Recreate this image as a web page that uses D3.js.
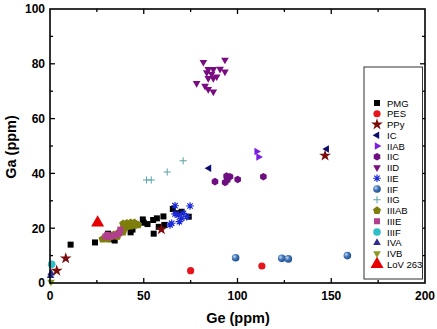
<!DOCTYPE html>
<html><head><meta charset="utf-8">
<script src="https://cdn.jsdelivr.net/npm/d3@7"></script>
<style>body{margin:0;background:#fff}svg{display:block}text{font-family:Arial,"Liberation Sans",sans-serif}</style>
</head><body>
<svg id="c" width="437" height="329"></svg>
<script>
const xTicks = [0, 50, 100, 150, 200];
const yTicks = [0, 20, 40, 60, 80, 100];
const xLabel = "Ge (ppm)";
const yLabel = "Ga (ppm)";

const PMG = [[11,14],[24,14.8],[31,18],[34.5,15.5],[33,16],[43,18.5],[44,19.5],[49.5,23.2],[50,22],[52,21.5],[55,23],[55.3,18],[57,23.6],[58,20.5],[60.5,24.3],[61,21.2],[65.5,27],[67.5,25.5],[70.2,26],[74,24.2]];
const PES = [[75,4.5],[113,6.2]];
const PPy = [[3.6,4.5],[8.4,9],[59.4,19.6],[146.7,46.5]];
const IC = [[84.8,41.9],[147.6,48.9]];
const IIAB = [[110.2,48],[111.2,46]];
const IIC = [[88,37],[93.4,36.7],[94.2,39],[96,38.8],[100.1,37.8],[113.8,38.8],[94.5,37.6]];
const IID = [[81.8,80.6],[93.3,81.4],[84.4,78],[87.1,78],[90.7,78.1],[93.3,77.1],[83.6,76.8],[86.2,76.3],[88.9,75.3],[84.4,74.7],[87.1,74.7],[78.2,72.9],[82.7,71.9],[84.4,70.7],[87.1,69.8]];
const IIE = [[66.7,28.2],[74.7,28.1],[66.7,25.2],[68.4,24.8],[71.1,25.4],[64.9,21.8],[69,22.4],[70.2,23.6],[72.9,24.2],[64,21.2]];
const IIF = [[99,9.2],[123.6,9],[127.1,8.8],[158.6,10]];
const IIG = [[51.5,37.6],[54,37.6],[62.5,40.5],[71,44.6]];
const IIIAB = [[28,16],[29.5,16.4],[31,16],[32,16.8],[33,17.2],[34,17.6],[35,17.2],[36,18],[37,18.6],[38,19.2],[39,19.8],[40,20.2],[41,20.6],[42,21],[43,20.8],[44,21.4],[45,21],[46,21.5],[47,21.2],[39,21.6],[41,21.8],[43,22],[45,22],[36,17],[39,18.6]];
const IIIE = [[29.5,17],[31,16.8],[32.5,17],[34,17.3],[35.5,17.6],[37,18.2],[37.5,19.5],[30.5,17.6]];
const IIIF = [[0.9,6.8]];
const IVA = [[0.3,2.6],[0.6,3.6]];
const IVB = [[0.5,0.4]];
const LoV263 = [[25.4,22]];

const seriesNames = ["PMG","PES","PPy","IC","IIAB","IIC","IID","IIE","IIF","IIG","IIIAB","IIIE","IIIF","IVA","IVB","LoV 263"];
const seriesData = [PMG,PES,PPy,IC,IIAB,IIC,IID,IIE,IIF,IIG,IIIAB,IIIE,IIIF,IVA,IVB,LoV263];

const styles = {
  "PMG":{shape:"square",r:3,fill:"#000"},
  "PES":{shape:"circle",r:3.6,fill:"#e8141c"},
  "PPy":{shape:"star",r:5.2,fill:"#7a0c0c"},
  "IC":{shape:"triLeft",r:4.4,fill:"#0c0c70"},
  "IIAB":{shape:"triRight",r:4.4,fill:"#7a1ee0"},
  "IIC":{shape:"hex",r:3.8,fill:"#6e0e80"},
  "IID":{shape:"triDown",r:4.4,fill:"#780c80"},
  "IIE":{shape:"asterisk",r:3.8,fill:"#1a2ad6"},
  "IIF":{shape:"ball",r:3.8,fill:"#3a6aac"},
  "IIG":{shape:"plus",r:3.6,fill:"#5aa2a6"},
  "IIIAB":{shape:"pent",r:4.2,fill:"#7e7e0c"},
  "IIIE":{shape:"square",r:3,fill:"#b23e8e"},
  "IIIF":{shape:"circle",r:3.8,fill:"#2ebfca"},
  "IVA":{shape:"triUp",r:4.4,fill:"#2e2e8e"},
  "IVB":{shape:"triDown",r:4.4,fill:"#8c9a22"},
  "LoV 263":{shape:"triUp",r:7.5,fill:"#e60000"}
};

function poly(n, r, rot){
  const p=[];
  for(let i=0;i<n;i++){const a=rot+i*2*Math.PI/n;p.push([r*Math.cos(a),r*Math.sin(a)]);}
  return "M"+p.map(d=>d[0].toFixed(2)+","+d[1].toFixed(2)).join("L")+"Z";
}
function shapePath(shape, r){
  switch(shape){
    case "square": return `M${-r},${-r}h${2*r}v${2*r}h${-2*r}Z`;
    case "circle": case "ball": return `M${r},0A${r},${r} 0 1,1 ${-r},0A${r},${r} 0 1,1 ${r},0Z`;
    case "star": return d3.symbol().type(d3.symbolStar).size(r*r*1.6)();
    case "triUp": return poly(3,r,-Math.PI/2);
    case "triDown": return poly(3,r,Math.PI/2);
    case "triLeft": return poly(3,r,Math.PI);
    case "triRight": return poly(3,r,0);
    case "hex": return poly(6,r,Math.PI/6);
    case "pent": return poly(5,r,-Math.PI/2);
    case "asterisk": {
      let s="";
      for(let i=0;i<4;i++){const a=i*Math.PI/4;const dx=r*Math.cos(a),dy=r*Math.sin(a);s+=`M${(-dx).toFixed(2)},${(-dy).toFixed(2)}L${dx.toFixed(2)},${dy.toFixed(2)}`;}
      return s;
    }
    case "plus": return `M${-r},0L${r},0M0,${-r}L0,${r}`;
  }
}

const svg = d3.select("#c");
const defs = svg.append("defs");
const g = defs.append("radialGradient").attr("id","ballGrad").attr("cx","35%").attr("cy","35%").attr("r","65%");
g.append("stop").attr("offset","0%").attr("stop-color","#c8dcf0");
g.append("stop").attr("offset","45%").attr("stop-color","#4a7cbc");
g.append("stop").attr("offset","100%").attr("stop-color","#1e4e8e");

const x = d3.scaleLinear().domain([0,200]).range([50,425]);
const y = d3.scaleLinear().domain([0,100]).range([283,9]);

function drawMarker(sel, name){
  const st = styles[name];
  const p = sel.append("path").attr("d", shapePath(st.shape, st.r));
  if(st.shape==="asterisk"||st.shape==="plus"){
    p.attr("fill","none").attr("stroke",st.fill).attr("stroke-width",st.shape==="plus"?1:1.2);
  } else if(st.shape==="ball"){
    p.attr("fill","url(#ballGrad)");
  } else {
    p.attr("fill",st.fill);
  }
}

// points
const plot = svg.append("g");
seriesNames.forEach((name,i)=>{
  seriesData[i].forEach(d=>{
    const m = plot.append("g").attr("transform",`translate(${x(d[0])},${y(d[1])})`);
    drawMarker(m,name);
  });
});

// frame
svg.append("rect").attr("x",x(0)).attr("y",y(100)).attr("width",x(200)-x(0)).attr("height",y(0)-y(100))
  .attr("fill","none").attr("stroke","#000").attr("stroke-width",1.6);

// ticks (inward)
const ax = svg.append("g").attr("stroke","#000").attr("stroke-width",1.3);
d3.range(0,201,25).forEach(v=>{
  const major = v%50===0, L = major?5:3;
  if(v>0&&v<200){
    ax.append("line").attr("x1",x(v)).attr("x2",x(v)).attr("y1",y(0)).attr("y2",y(0)-L);
    ax.append("line").attr("x1",x(v)).attr("x2",x(v)).attr("y1",y(100)).attr("y2",y(100)+L);
  }
});
d3.range(0,101,10).forEach(v=>{
  const major = v%20===0, L = major?5:3;
  if(v>0&&v<100){
    ax.append("line").attr("x1",x(0)).attr("x2",x(0)+L).attr("y1",y(v)).attr("y2",y(v));
    ax.append("line").attr("x1",x(200)).attr("x2",x(200)-L).attr("y1",y(v)).attr("y2",y(v));
  }
});

// tick labels
svg.append("g").selectAll("text").data(xTicks).join("text")
  .attr("x",d=>x(d)).attr("y",300).attr("text-anchor","middle")
  .attr("font-size",12).attr("font-weight","bold").text(d=>d);
svg.append("g").selectAll("text").data(yTicks).join("text")
  .attr("x",45).attr("y",d=>y(d)+4.3).attr("text-anchor","end")
  .attr("font-size",12).attr("font-weight","bold").text(d=>d);

// axis titles
svg.append("text").attr("x",238).attr("y",323).attr("text-anchor","middle")
  .attr("font-size",14.5).attr("font-weight","bold").text(xLabel);
svg.append("text").attr("transform","translate(16,147) rotate(-90)").attr("text-anchor","middle")
  .attr("font-size",14.5).attr("font-weight","bold").text(yLabel);

// legend
const lg = svg.append("g");
lg.append("rect").attr("x",364).attr("y",67).attr("width",58.5).attr("height",212)
  .attr("fill","#fff").attr("stroke","#333").attr("stroke-width",1);
seriesNames.forEach((name,i)=>{
  const yy = 103 + i*10.75;
  const m = lg.append("g").attr("transform",`translate(377,${yy})`);
  drawMarker(m,name);
  lg.append("text").attr("x",387).attr("y",yy+3.5).attr("font-size",9.5).text(name);
});
</script>
</body></html>
